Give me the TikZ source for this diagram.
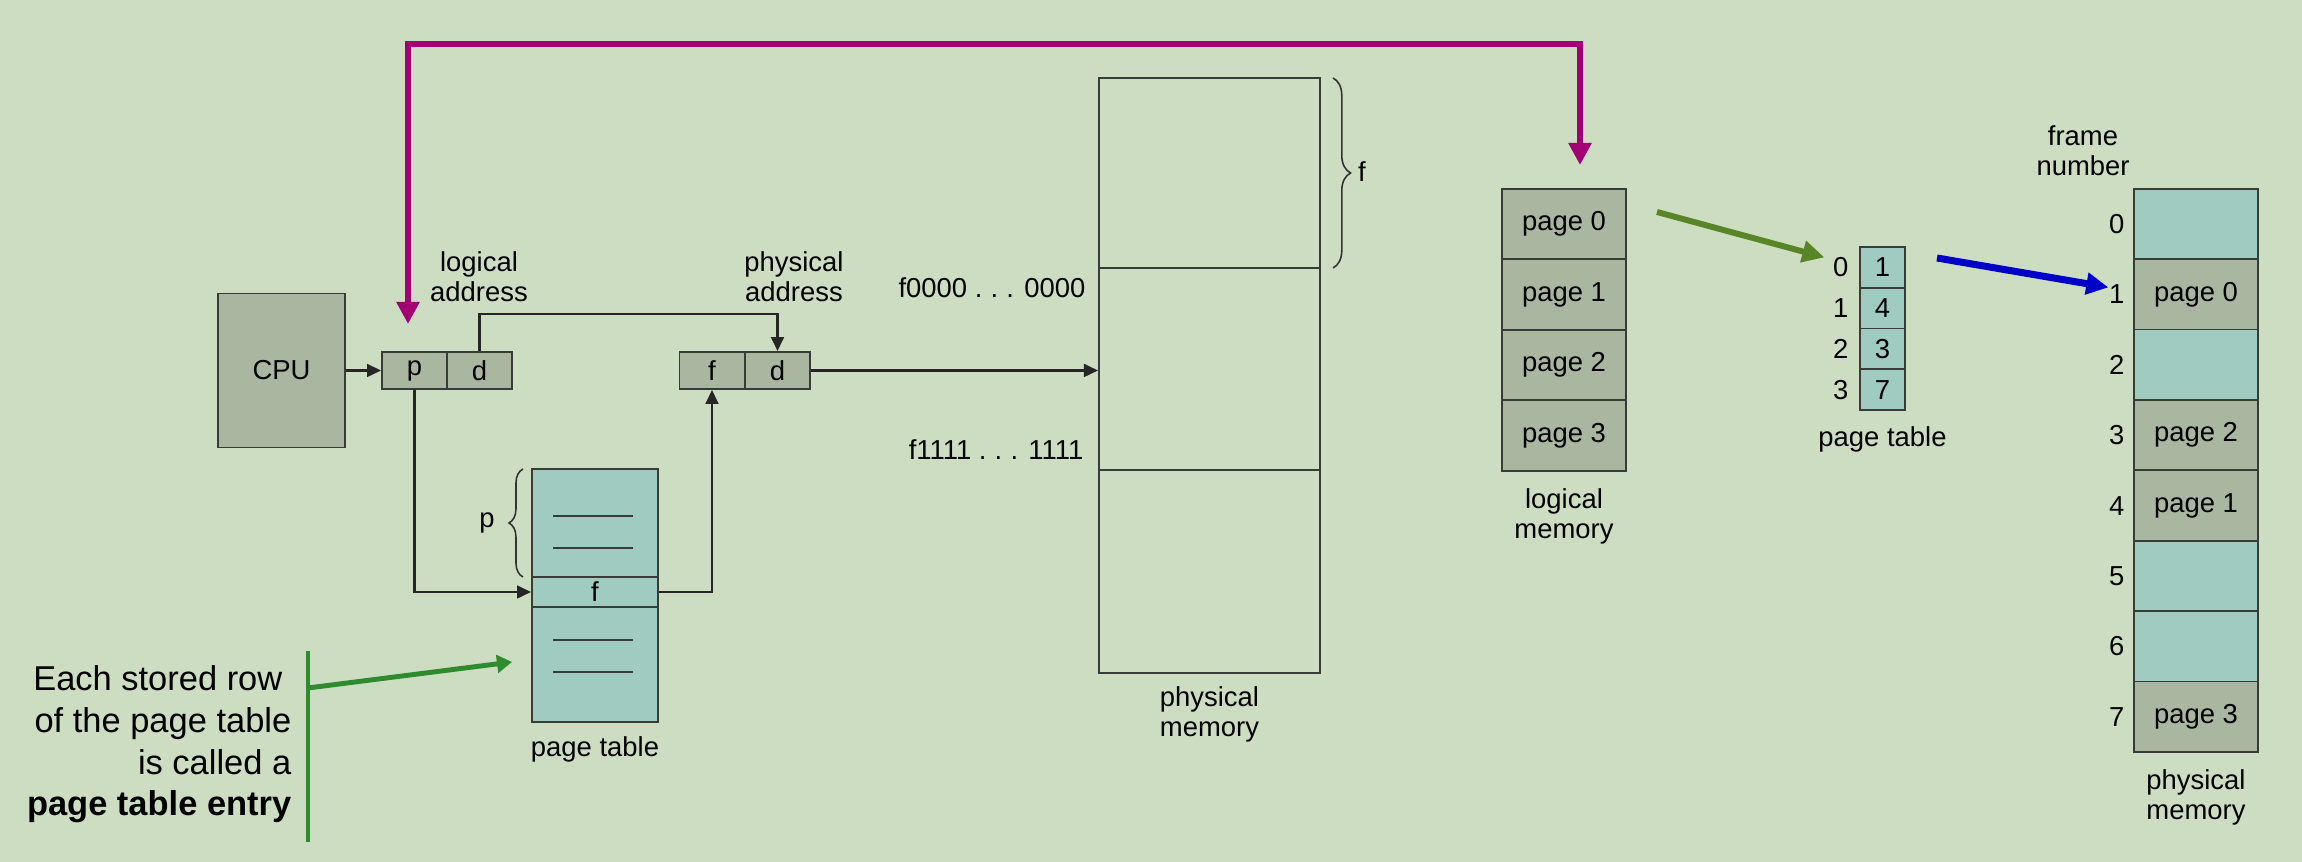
\documentclass[tikz,border=0pt]{standalone}
\usepackage{fontspec}
\setmainfont{Liberation Sans}
\usepackage{tikz}
\usetikzlibrary{positioning,calc,arrows.meta,decorations.pathreplacing}

\definecolor{bgsage}{RGB}{205,221,194}
\definecolor{cellgray}{RGB}{169,182,160}
\definecolor{cellteal}{RGB}{160,203,192}
\definecolor{linegray}{RGB}{55,60,55}
\definecolor{magline}{RGB}{163,0,118}
\definecolor{olivearr}{RGB}{88,134,38}
\definecolor{pteline}{RGB}{46,140,46}
\definecolor{bluearr}{RGB}{0,0,200}

\begin{document}
\begin{tikzpicture}[x=0.01cm, y=-0.01cm,
    lbl/.style={font=\fontsize{7.8}{8.5}\selectfont, align=center, inner sep=0pt},
    cell/.style={draw=linegray, line width=0.5pt, minimum height=0.37cm, minimum width=0.65cm,
                 inner sep=0pt, font=\fontsize{7.8}{8.5}\selectfont},
    arr/.style={-{Triangle[length=4pt,width=3.6pt]}, line width=0.75pt, black!85},
    curly/.style={decorate, decoration={brace, amplitude=4pt}, line width=0.45pt, black!80},
    bigarr/.style={-{Triangle[length=6.3pt,width=6pt]}, line width=1.7pt}]

    % background
    \fill[bgsage] (0,0) rectangle (2302,862);

    % CPU and logical address
    \node[cell, fill=cellgray, minimum width=1.27cm, minimum height=1.54cm] (cpu) at (281.5,370.5) {CPU};
    \node[cell, fill=cellgray] (lp) at (414.5,370.5) {p};
    \node[cell, fill=cellgray] (ld) at (479.5,370.5) {d};
    \node[lbl] (laddr) at (479,277) {logical\\address};

    % physical address
    \node[cell, fill=cellgray] (pf) at (712,370.5) {f};
    \node[cell, fill=cellgray] (pd) at (777.5,370.5) {d};
    \node[lbl] (paddr) at (794,277) {physical\\address};

    % page table with the selected entry
    \node[cell, fill=cellteal, minimum width=1.26cm, minimum height=1.08cm] (ptTop) at (595,523) {};
    \node[cell, fill=cellteal, minimum width=1.26cm, minimum height=0.30cm] (ptF) at (595,592) {f};
    \node[cell, fill=cellteal, minimum width=1.26cm, minimum height=1.15cm] (ptBot) at (595,664.5) {};
    \foreach \y in {516,548,640,672}
        \draw[linegray, line width=0.6pt] (553,\y) -- (633,\y);
    \node[lbl, below=0.13cm of ptBot] (ptlbl) {page table};
    \draw[curly] (523,577) -- (523,469);
    \node[lbl] (plbl) at (487,523) {p};

    % physical memory
    \node[cell, minimum width=2.21cm, minimum height=1.90cm] (pm0) at (1209.5,173) {};
    \node[cell, minimum width=2.21cm, minimum height=2.02cm] (pm1) at (1209.5,369) {};
    \node[cell, minimum width=2.21cm, minimum height=2.03cm] (pm2) at (1209.5,571.5) {};
    \node[lbl, below=0.12cm of pm2] (pmlbl) {physical\\memory};
    \node[lbl, anchor=east] (lo) at (1086,288) {f0000 .\hspace{0.3em}.\hspace{0.3em}. 0000};
    \node[lbl, anchor=east] (hi) at (1084,450) {f1111 .\hspace{0.3em}.\hspace{0.3em}. 1111};
    \draw[curly, decoration={amplitude=5pt}] (1333,78) -- (1333,268);
    \node[lbl] (flbl) at (1362,172) {f};

    % translation path
    \draw[arr] (cpu.east) -- (lp.west);
    \draw[arr] (ld.north) -- ++(0,-37) -| (pd.north);
    \draw[arr] (lp.south) |- (ptF.west);
    \draw[arr] (ptF.east) -| (pf.south);
    \draw[arr] (pd.east) -- (pd.east -| pm1.west);

    % logical memory
    \foreach \i in {0,...,3}
        \node[cell, fill=cellgray, minimum width=1.24cm, minimum height=0.705cm] (lm\i) at (1564,{224+70.5*\i}) {page \i};
    \node[lbl, below=0.16cm of lm3] (lmlbl) {logical\\memory};

    % small page table
    \foreach \i/\f in {0/1,1/4,2/3,3/7} {
        \node[cell, fill=cellteal, minimum width=0.45cm, minimum height=0.4075cm] (pt\i) at (1882.5,{267.4+40.75*\i}) {\f};
        \node[lbl, left=0.1cm of pt\i] (ix\i) {\i};
    }
    \node[lbl, below=0.15cm of pt3] (sptlbl) {page table};

    % frames of physical memory
    \foreach \i/\txt/\col in {0/{}/cellteal, 1/page 0/cellgray, 2/{}/cellteal, 3/page 2/cellgray,
                              4/page 1/cellgray, 5/{}/cellteal, 6/{}/cellteal, 7/page 3/cellgray} {
        \node[cell, fill=\col, minimum width=1.24cm, minimum height=0.704cm] (fr\i) at (2196,{224+70.4*\i}) {\txt};
        \node[lbl, left=0.08cm of fr\i] (fn\i) {\i};
    }
    \node[lbl] (fnlbl) at (2083,151) {frame\\number};
    \node[lbl, below=0.16cm of fr7] (frlbl) {physical\\memory};

    % coloured pointers
    \coordinate (magL) at (408,324);
    \coordinate (magR) at (1580,165);
    \draw[magline, line width=1.7pt, {Triangle[length=6.3pt,width=6.3pt]}-{Triangle[length=6.3pt,width=6.3pt]}]
        (magL) -- ++(0,-280) -| (magR);
    \coordinate (olo) at (1657,212);
    \draw[bigarr, olivearr] (olo) -- ([xshift=-0.08cm, yshift=0.1cm]ix0.west);
    \coordinate (blo) at (1937,258);
    \draw[bigarr, bluearr, line width=2pt] (blo) -- ([yshift=0.07cm]fn1.west);

    % page table entry note
    \node[font=\fontsize{9.8}{11.85}\selectfont, align=right, anchor=east, inner sep=0pt] (note) at (292,744.5)
        {Each stored row\hspace*{0.26em}\\of the page table\hspace*{0.26em}\\is called a\hspace*{0.26em}\\\textbf{page table entry}};
    \coordinate (gtop) at (308,651);
    \coordinate (gbot) at (308,842);
    \coordinate (gmid) at (308,688);
    \draw[pteline, line width=1.4pt] (gtop) -- (gbot);
    \draw[pteline, line width=1.4pt, -{Triangle[length=4.3pt,width=5pt]}] (gmid) -- ([xshift=-0.19cm, yshift=0.025cm]ptBot.west);
\end{tikzpicture}
\end{document}
